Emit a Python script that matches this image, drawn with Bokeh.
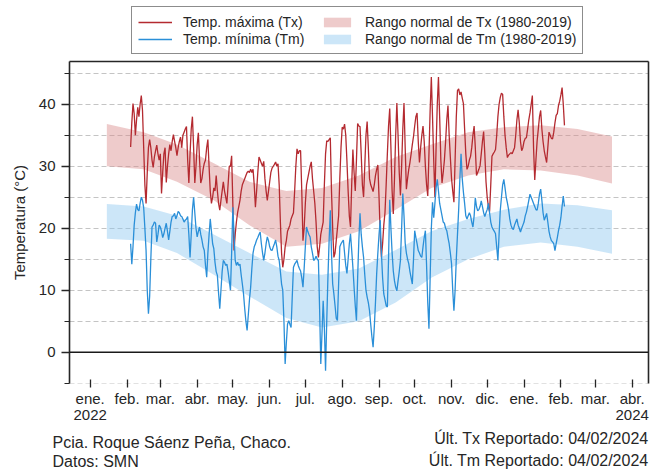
import pandas as pd
from datetime import datetime
from bokeh.plotting import figure
from bokeh.layouts import column
from bokeh.models import (ColumnDataSource, Range1d, FixedTicker, LinearAxis,
                          Legend, LegendItem, Span, Label)
from bokeh.embed import file_html
from bokeh.resources import INLINE

# ---------------- data ----------------
serie_inicio = "2023-02-04"

tx_max = [
    33.1, 37.0, 40.1, 38.5, 35.0, 37.5, 39.5, 38.0, 40.0, 41.4,
    39.0, 33.0, 27.0, 24.0, 29.0, 33.0, 34.3, 33.0, 31.0, 29.8,
    31.5, 32.5, 33.4, 32.0, 31.0, 32.0, 25.6, 29.0, 32.0, 33.0,
    27.4, 30.0, 32.0, 33.5, 32.5, 34.0, 35.1, 34.0, 33.0, 31.7,
    33.0, 34.0, 34.7, 33.0, 35.0, 35.5, 36.0, 36.4, 31.0, 27.3,
    32.0, 36.0, 38.0, 33.0, 27.3, 30.0, 33.5, 35.4, 31.0, 27.3,
    28.0, 29.5, 30.5, 31.0, 33.0, 34.3, 30.0, 26.0, 24.0, 25.0,
    26.5, 26.0, 28.5, 26.0, 24.0, 22.9, 24.5, 26.0, 27.5, 26.0,
    25.0, 24.0, 27.0, 30.0, 30.0, 31.7, 24.0, 16.4, 19.0, 21.0,
    22.5, 23.5, 24.5, 26.0, 27.0, 27.5, 28.0, 28.5, 29.0, 29.2,
    29.0, 29.5, 29.0, 29.5, 27.0, 23.4, 26.0, 29.0, 31.5, 31.0,
    30.5, 30.0, 30.8, 28.0, 26.0, 24.5, 26.0, 27.5, 29.0, 29.7,
    30.0, 30.3, 30.7, 30.0, 30.4, 27.0, 21.0, 16.0, 13.7, 15.0,
    17.0, 18.0, 19.5, 20.0, 20.5, 21.5, 22.0, 22.5, 26.0, 30.0,
    32.8, 32.0, 32.5, 32.5, 26.0, 18.0, 20.0, 24.0, 27.0, 28.0,
    29.0, 30.0, 30.7, 28.0, 26.0, 24.0, 21.0, 17.0, 15.3, 17.0,
    19.0, 20.0, 21.0, 27.0, 32.0, 34.1, 34.0, 34.3, 34.6, 26.0,
    20.0, 15.3, 16.0, 18.0, 20.0, 22.0, 28.0, 33.0, 36.3, 36.0,
    36.8, 35.0, 30.8, 26.0, 22.0, 20.2, 27.0, 32.7, 29.0, 26.0,
    31.0, 36.9, 36.5, 36.4, 32.0, 27.0, 25.0, 30.0, 35.0, 37.2,
    33.0, 28.0, 27.0, 26.5, 25.9, 27.0, 28.5, 29.5, 30.2, 25.0,
    19.0, 15.3, 17.5, 20.5, 22.5, 27.0, 32.0, 36.5, 39.3, 33.0,
    26.0, 22.3, 28.0, 35.0, 40.2, 35.0, 29.0, 25.3, 30.0, 36.0,
    40.2, 33.0, 26.3, 28.0, 29.5, 30.6, 32.0, 33.5, 34.8, 36.5,
    38.0, 38.6, 34.0, 30.6, 33.0, 35.0, 36.5, 34.0, 30.0, 27.0,
    25.2, 32.0, 39.0, 44.4, 38.0, 31.0, 25.0, 33.0, 40.0, 44.4,
    38.0, 31.0, 27.3, 29.0, 31.0, 34.0, 37.5, 39.8, 35.0, 31.4,
    28.0, 26.0, 24.2, 31.0, 38.0, 42.2, 42.5, 41.5, 42.0, 41.0,
    40.1, 36.0, 32.0, 29.5, 30.0, 31.0, 31.6, 33.0, 35.0, 36.5,
    33.0, 28.5, 29.0, 29.5, 30.1, 32.0, 34.0, 35.6, 32.0, 27.5,
    25.0, 23.5, 22.7, 27.0, 31.6, 32.0, 32.3, 32.7, 35.0, 38.0,
    40.0, 41.1, 41.8, 41.6, 38.0, 35.0, 33.0, 31.4, 31.8, 32.0,
    32.2, 32.0, 32.5, 33.0, 35.0, 37.5, 39.1, 37.0, 34.0, 32.5,
    33.0, 34.0, 34.5, 34.6, 36.0, 37.5, 38.6, 40.0, 41.4, 33.0,
    27.8, 31.0, 34.1, 36.0, 38.0, 39.0, 36.0, 34.0, 32.5, 31.5,
    30.6, 33.0, 35.5, 35.0, 34.5, 34.4, 35.5, 37.0, 38.2, 38.5,
    39.8, 40.5, 41.5, 42.7, 40.0, 36.6,
]

tm_min = [
    17.5, 14.2, 17.0, 20.5, 22.5, 23.9, 23.0, 22.8, 24.0, 25.0,
    24.5, 23.3, 20.0, 16.4, 10.0, 6.2, 9.0, 15.0, 20.2, 20.5,
    21.0, 20.8, 17.8, 19.0, 20.5, 20.2, 19.5, 18.5, 19.1, 20.0,
    20.8, 19.5, 18.1, 19.5, 21.0, 21.9, 22.0, 22.4, 21.5, 22.0,
    22.7, 22.5, 22.0, 21.9, 21.5, 21.0, 21.3, 21.5, 21.9, 19.0,
    15.3, 19.0, 23.0, 25.0, 22.5, 20.0, 18.6, 19.5, 20.2, 19.0,
    18.1, 17.0, 16.4, 14.0, 12.1, 16.0, 18.9, 21.5, 19.5, 17.5,
    16.7, 14.5, 13.0, 12.4, 9.5, 7.0, 10.0, 13.0, 14.8, 14.5,
    14.0, 14.2, 13.0, 11.5, 10.0, 16.0, 23.4, 19.0, 14.8, 14.0,
    14.5, 14.0, 14.2, 12.5, 11.0, 9.4, 7.0, 5.0, 3.5, 6.0,
    8.5, 10.5, 13.5, 16.0, 17.0, 17.5, 18.1, 18.5, 19.0, 19.4,
    17.5, 16.0, 14.8, 16.0, 17.5, 18.6, 18.0, 17.0, 16.5, 16.4,
    17.0, 17.5, 18.1, 17.0, 15.5, 14.8, 13.0, 11.0, 10.0, 5.0,
    -1.9, 1.5, 4.5, 5.1, 4.5, 4.0, 9.0, 13.7, 14.2, 14.5,
    14.8, 14.0, 13.5, 13.1, 12.0, 10.5, 13.5, 17.0, 20.2, 19.5,
    19.0, 18.6, 17.0, 16.0, 14.8, 15.0, 15.5, 15.0, 14.8, 7.0,
    -1.9, 3.0, 8.3, 4.0, -3.0, 5.0, 12.0, 18.0, 22.9, 16.0,
    11.0, 9.4, 7.5, 5.5, 5.1, 11.0, 17.0, 17.5, 17.8, 18.1,
    16.0, 14.0, 12.7, 15.0, 17.5, 19.1, 16.5, 13.7, 10.5, 7.5,
    5.1, 12.0, 18.0, 22.4, 19.0, 17.0, 15.3, 12.5, 10.0, 8.9,
    8.0, 6.7, 4.5, 2.5, 0.8, 4.0, 8.0, 12.6, 16.0, 19.0,
    21.3, 16.0, 12.0, 9.4, 8.5, 7.5, 7.3, 15.0, 24.6, 20.0,
    16.0, 13.1, 11.5, 10.5, 9.9, 11.5, 13.0, 14.8, 20.0, 25.6,
    22.0, 17.6, 16.0, 15.0, 14.3, 13.0, 12.0, 11.0, 15.0, 19.6,
    18.5, 17.5, 16.4, 16.0, 15.5, 15.3, 17.0, 18.5, 19.6, 14.0,
    8.0, 3.8, 12.0, 20.0, 24.2, 21.7, 24.0, 26.5, 27.9, 26.0,
    24.0, 23.0, 22.0, 21.0, 20.8, 20.0, 19.6, 18.5, 17.5, 16.0,
    14.3, 10.0, 6.7, 10.0, 15.0, 19.0, 23.0, 28.0, 32.0, 28.0,
    25.8, 24.0, 22.0, 21.5, 22.0, 22.5, 22.0, 21.0, 20.2, 22.0,
    24.9, 23.5, 22.8, 23.0, 23.5, 24.4, 23.5, 22.5, 21.9, 22.5,
    23.0, 24.0, 22.5, 21.0, 20.2, 19.8, 19.5, 19.1, 17.0, 14.8,
    19.0, 22.9, 25.0, 27.0, 27.9, 26.5, 25.0, 24.1, 23.0, 21.5,
    20.5, 20.0, 19.8, 20.5, 21.0, 21.5, 20.5, 20.0, 19.4, 20.0,
    20.5, 21.0, 22.0, 22.6, 23.5, 24.5, 25.5, 25.0, 24.5, 24.0,
    23.5, 23.0, 22.9, 24.0, 25.5, 26.3, 24.5, 22.5, 21.3, 21.8,
    22.4, 21.0, 19.5, 18.6, 18.0, 17.8, 17.5, 16.4, 17.5, 18.5,
    19.6, 20.5, 21.7, 23.5, 25.2, 23.5,
]

normal_meses = ["2023-01-15", "2023-02-15", "2023-03-15", "2023-04-15",
                "2023-05-15", "2023-06-15", "2023-07-15", "2023-08-15",
                "2023-09-15", "2023-10-15", "2023-11-15", "2023-12-15",
                "2024-01-15", "2024-02-15", "2024-03-15"]
tx_norm_inf = [30.0, 29.5, 27.5, 24.5, 20.5, 17.0, 17.5, 19.5, 23.0, 26.5, 28.5, 29.5, 29.3, 28.5, 27.2]
tx_norm_sup = [36.8, 35.5, 33.5, 30.5, 27.5, 26.0, 26.5, 28.5, 31.5, 33.5, 35.5, 36.3, 36.6, 36.0, 34.8]
tm_norm_inf = [18.3, 18.0, 16.0, 12.5, 9.0, 5.5, 4.0, 5.0, 8.0, 12.0, 15.0, 17.0, 17.7, 17.0, 15.9]
tm_norm_sup = [23.9, 23.5, 22.0, 19.0, 16.0, 13.0, 12.5, 13.5, 16.5, 19.5, 21.5, 23.0, 24.0, 23.7, 22.9]

tick_fechas = ["2023-01-01", "2023-02-01", "2023-03-01", "2023-04-01",
               "2023-05-01", "2023-06-01", "2023-07-01", "2023-08-01",
               "2023-09-01", "2023-10-01", "2023-11-01", "2023-12-01",
               "2024-01-01", "2024-02-01", "2024-03-01", "2024-04-01"]
tick_etiquetas = ["ene.\n2022", "feb.", "mar.", "abr.", "may.", "jun.", "jul.",
                  "ago.", "sep.", "oct.", "nov.", "dic.", "ene.", "feb.",
                  "mar.", "abr.\n2024"]
y_ticks = [0, 10, 20, 30, 40]
y_minor = [-5, 5, 15, 25, 35, 45]

leyenda = ["Temp. máxima (Tx)", "Temp. mínima (Tm)",
           "Rango normal de Tx (1980-2019)", "Rango normal de Tm (1980-2019)"]

# ---------------- styles ----------------
FONT = "Liberation Sans"
TXT = "#262626"
W = 655
C_TX, C_TM = "#b42a30", "#2a8fd8"
C_BX, C_BM = "#d98c8c", "#8fc8f0"
BAND_ALPHA = 0.45

fechas = pd.date_range(start=serie_inicio, periods=len(tx_max), freq="D")
src = ColumnDataSource(dict(x=fechas, tx=tx_max, tm=tm_min))
nsrc = ColumnDataSource(dict(x=pd.to_datetime(normal_meses),
                             txi=tx_norm_inf, txs=tx_norm_sup,
                             tmi=tm_norm_inf, tms=tm_norm_sup))

def bare(fig):
    fig.outline_line_color = None
    fig.xgrid.grid_line_color = None
    fig.ygrid.grid_line_color = None
    fig.background_fill_color = "white"
    fig.border_fill_color = "white"

# ---------------- header with legend ----------------
# legend strip: same data renderers, but the strip's ranges keep them out of view
head = figure(width=W, height=57, x_range=Range1d(0, 1), y_range=Range1d(0, 1),
              output_backend="svg", toolbar_location=None,
              x_axis_location=None, y_axis_location=None,
              min_border_left=0, min_border_right=0,
              min_border_top=0, min_border_bottom=0, frame_align=False)
bare(head)
h_tx = head.line(x="x", y="tx", source=src, line_color=C_TX, line_width=1.3)
h_tm = head.line(x="x", y="tm", source=src, line_color=C_TM, line_width=1.3)
h_bx = head.varea(x="x", y1="txi", y2="txs", source=nsrc, fill_color=C_BX, fill_alpha=BAND_ALPHA)
h_bm = head.varea(x="x", y1="tmi", y2="tms", source=nsrc, fill_color=C_BM, fill_alpha=BAND_ALPHA)

legend = Legend(items=[
    LegendItem(label=leyenda[0], renderers=[h_tx]),
    LegendItem(label=leyenda[1], renderers=[h_tm]),
    LegendItem(label=leyenda[2], renderers=[h_bx]),
    LegendItem(label=leyenda[3], renderers=[h_bm]),
], location=(131, 3), ncols=2, orientation="vertical")
legend.label_text_font = FONT
legend.label_text_font_size = "14px"
legend.label_text_color = TXT
legend.glyph_width = 34
legend.glyph_height = 12
legend.label_standoff = 11
legend.label_width = 137
legend.label_height = 17
legend.spacing = 0
legend.padding = 6
legend.margin = 0
legend.border_line_color = "#1a1a1a"
legend.border_line_width = 1.2
legend.background_fill_color = "white"
legend.background_fill_alpha = 1.0
head.add_layout(legend)

# ---------------- main chart ----------------
p = figure(width=W, height=368, x_axis_type="datetime",
           x_range=Range1d(datetime(2022, 12, 14, 14), datetime(2024, 4, 14, 17)),
           y_range=Range1d(-5.05, 46.9),
           output_backend="svg", toolbar_location=None,
           min_border_left=69, min_border_right=7,
           min_border_top=4, min_border_bottom=42, frame_align=False)
p.outline_line_color = None
p.background_fill_color = "white"
p.border_fill_color = "white"

p.xgrid.grid_line_color = None
p.ygrid.ticker = FixedTicker(ticks=y_ticks, minor_ticks=y_minor)
p.ygrid.grid_line_color = "#c4c4c4"
p.ygrid.grid_line_dash = "5 3"
p.ygrid.grid_line_width = 1
p.ygrid.minor_grid_line_color = "#c4c4c4"
p.ygrid.minor_grid_line_dash = "5 3"
p.ygrid.minor_grid_line_width = 1

p.varea(x="x", y1="txi", y2="txs", source=nsrc, fill_color=C_BX, fill_alpha=BAND_ALPHA)
p.varea(x="x", y1="tmi", y2="tms", source=nsrc, fill_color=C_BM, fill_alpha=BAND_ALPHA)

p.add_layout(Span(location=0, dimension="width", line_color="#1a1a1a", line_width=1.6))

p.line(x="x", y="tx", source=src, line_color=C_TX, line_width=1.3)
p.line(x="x", y="tm", source=src, line_color=C_TM, line_width=1.3)

tick_ms = [float(pd.Timestamp(t).value // 10**6) for t in tick_fechas]
xa = p.xaxis[0]
xa.ticker = FixedTicker(ticks=tick_ms, minor_ticks=[])
xa.major_label_overrides = {k: v for k, v in zip(tick_ms, tick_etiquetas)}
xa.axis_line_color = None
xa.major_tick_in = 4
xa.major_tick_out = 4
xa.major_tick_line_color = "#262626"
xa.major_tick_line_width = 1.3
xa.minor_tick_line_color = None
xa.major_label_standoff = 2
xa.major_label_text_font = FONT
xa.major_label_text_font_size = "15px"
xa.major_label_text_color = TXT
xa.major_label_text_line_height = 0.95

ya = p.yaxis[0]
ya.ticker = FixedTicker(ticks=y_ticks, minor_ticks=y_minor)
ya.axis_line_color = "#262626"
ya.axis_line_width = 1.6
ya.major_tick_in = 0
ya.major_tick_out = 8
ya.minor_tick_in = 0
ya.minor_tick_out = 5
ya.major_tick_line_color = "#262626"
ya.minor_tick_line_color = "#262626"
ya.major_tick_line_width = 1.3
ya.minor_tick_line_width = 1.0
ya.major_label_standoff = 6
ya.major_label_text_font = FONT
ya.major_label_text_font_size = "15px"
ya.major_label_text_color = TXT
ya.axis_label = "Temperatura (°C)"
ya.axis_label_text_font = FONT
ya.axis_label_text_font_size = "15px"
ya.axis_label_text_font_style = "normal"
ya.axis_label_text_color = TXT
ya.axis_label_standoff = 8

for side in ("above", "right"):
    ax = LinearAxis(ticker=FixedTicker(ticks=[]), axis_line_color="#262626",
                    axis_line_width=1.6, major_tick_line_color=None,
                    minor_tick_line_color=None, major_label_standoff=0)
    p.add_layout(ax, side)

# ---------------- footer ----------------
foot = figure(width=W, height=45, x_range=Range1d(0, W), y_range=Range1d(0, 45),
              output_backend="svg", toolbar_location=None,
              x_axis_location=None, y_axis_location=None,
              min_border_left=0, min_border_right=0,
              min_border_top=0, min_border_bottom=0, frame_align=False)
bare(foot)

def footer(text, x, y, align):
    foot.add_layout(Label(x=x, y=y, text=text, text_align=align,
                          text_baseline="middle", text_font=FONT,
                          text_font_size="16px", text_color=TXT))

footer("Pcia. Roque Sáenz Peña, Chaco.", 52, 28, "left")
footer("Datos: SMN", 52, 9, "left")
footer("Últ. Tx Reportado: 04/02/2024", 648, 32, "right")
footer("Últ. Tm Reportado: 04/02/2024", 648, 10, "right")

layout = column(head, p, foot, spacing=0)
open("out.html", "w").write(file_html(layout, INLINE))
